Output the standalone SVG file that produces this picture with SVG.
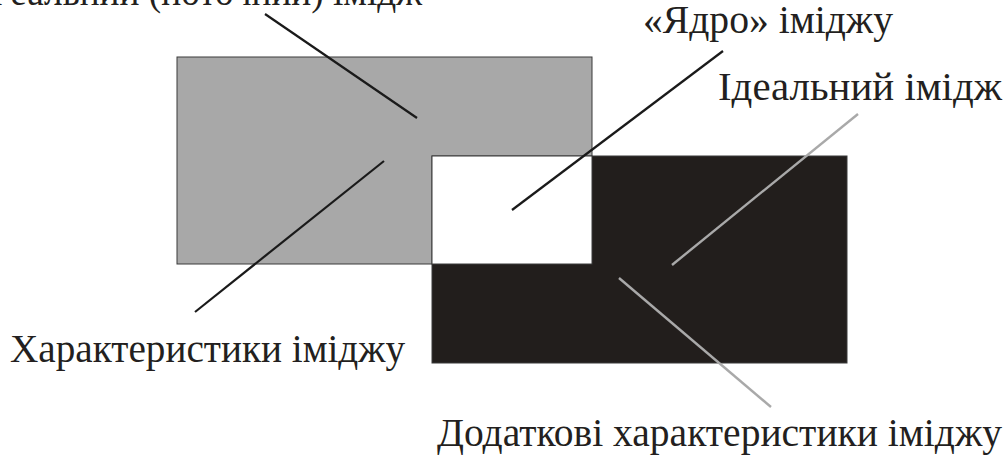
<svg xmlns="http://www.w3.org/2000/svg" width="1007" height="455" viewBox="0 0 1007 455">
<style>
.lbl{font-family:"Liberation Serif","Times New Roman",serif;font-size:40px;fill:#231f20}
.box{stroke:#3a3a3a;stroke-width:1}
.ldark{stroke:#1a1a1a;stroke-width:2.2;fill:none}
.llight{stroke:#a9a9a9;stroke-width:2.4;fill:none}
</style>
<rect width="1007" height="455" fill="#ffffff"/>
<g id="real-image">
<rect class="box" x="177" y="57" width="415" height="207" fill="#a8a8a8"/>
</g>
<g id="ideal-image">
<rect class="box" x="432" y="156" width="415" height="207" fill="#221e1c"/>
</g>
<g id="core">
<rect class="box" x="432" y="156" width="160" height="108" fill="#ffffff"/>
</g>
<g id="connectors">
<line class="ldark" x1="265" y1="14" x2="417" y2="118"/>
<line class="ldark" x1="195" y1="312" x2="384" y2="161"/>
<line class="ldark" x1="512" y1="210" x2="723" y2="51"/>
<line class="llight" x1="672" y1="265" x2="858" y2="114"/>
<line class="llight" x1="619" y1="278" x2="771" y2="407"/>
</g>
<g id="label-real">
<text class="lbl" x="-10" y="5" textLength="432" lengthAdjust="spacingAndGlyphs">Реальний (поточний) імідж</text>
</g>
<g id="label-core">
<text class="lbl" x="643" y="33" textLength="250" lengthAdjust="spacingAndGlyphs">«Ядро» іміджу</text>
</g>
<g id="label-ideal">
<text class="lbl" x="718" y="100" textLength="284" lengthAdjust="spacingAndGlyphs">Ідеальний імідж</text>
</g>
<g id="label-char">
<text class="lbl" x="10" y="362" textLength="395" lengthAdjust="spacingAndGlyphs">Характеристики іміджу</text>
</g>
<g id="label-add">
<text class="lbl" x="437" y="446" textLength="565" lengthAdjust="spacingAndGlyphs">Додаткові характеристики іміджу</text>
</g>
</svg>
